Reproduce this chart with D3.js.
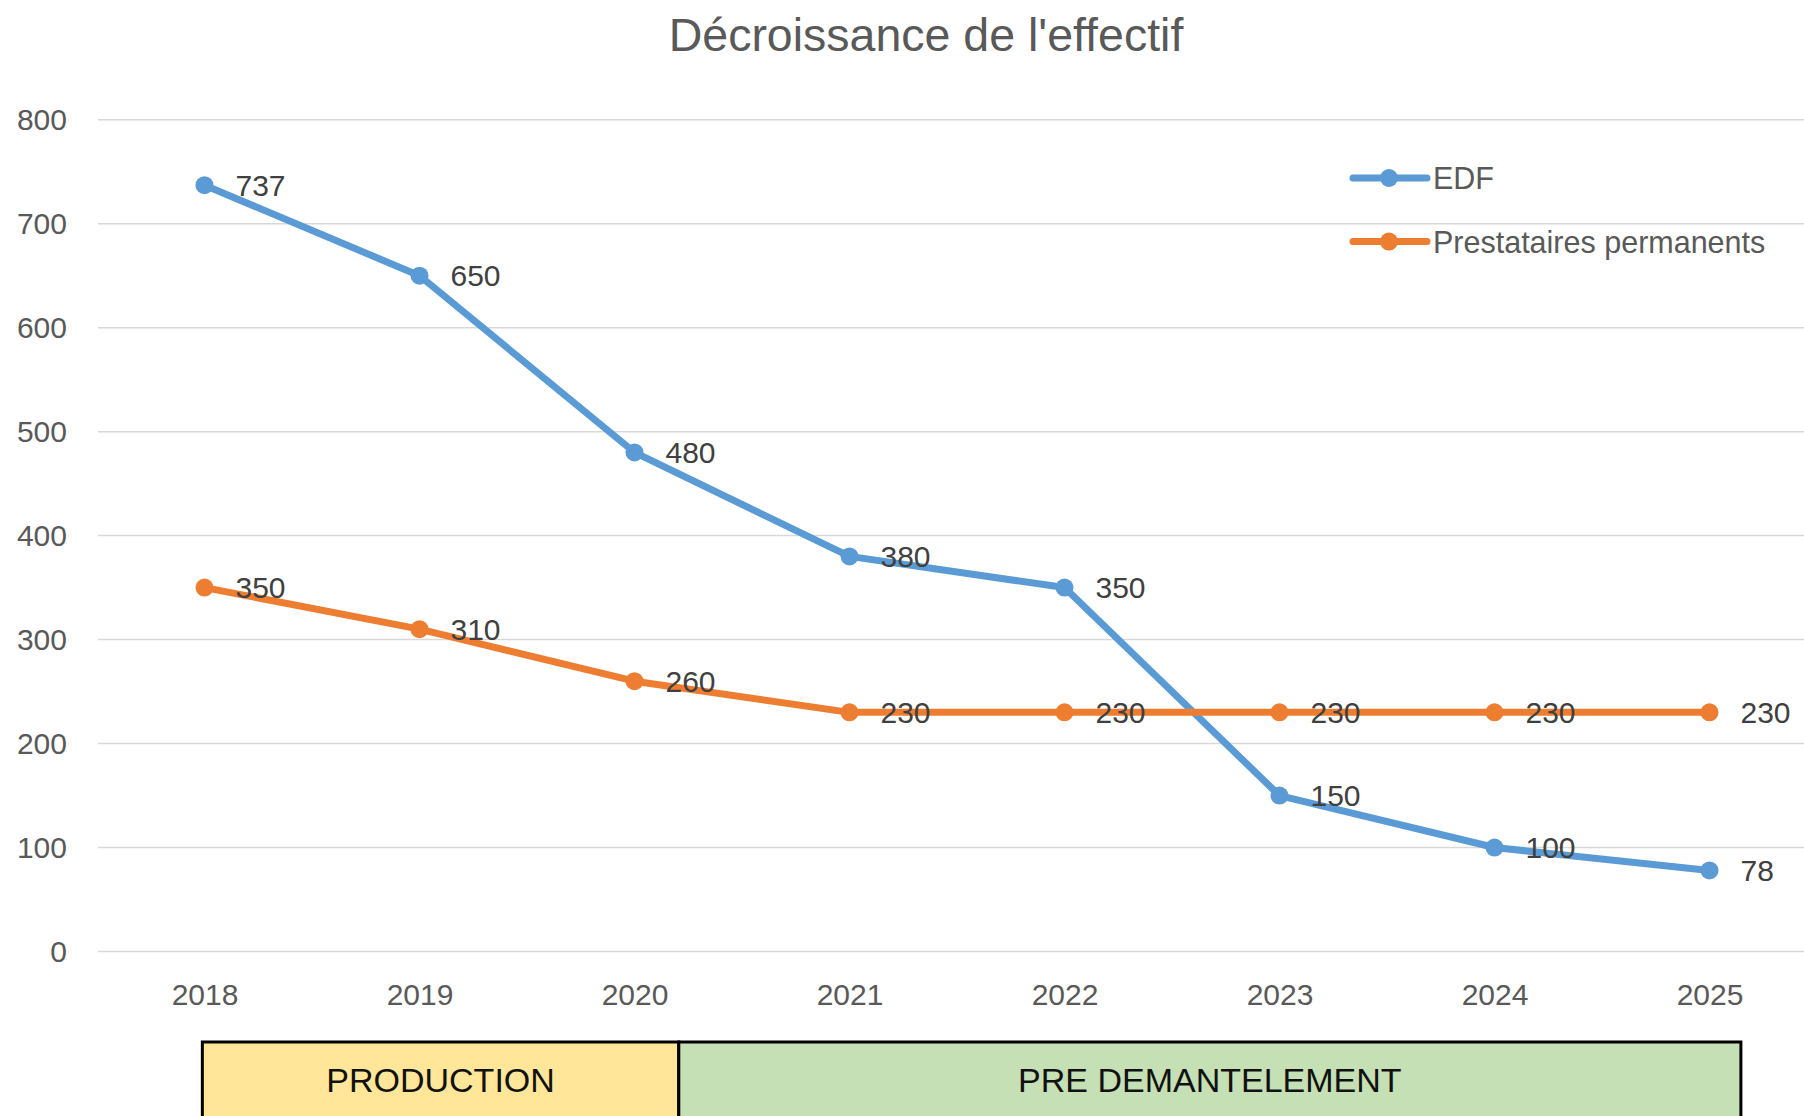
<!DOCTYPE html>
<html><head><meta charset="utf-8">
<script src="https://cdn.jsdelivr.net/npm/d3@7"></script>
<style>html,body{margin:0;padding:0;background:#fff;}svg{display:block;font-family:"Liberation Sans",Arial,sans-serif;}</style>
</head><body>
<svg id="c" width="1804" height="1116"></svg>
<script>
const years = ["2018","2019","2020","2021","2022","2023","2024","2025"];
const edf = [737,650,480,380,350,150,100,78];
const prestataires = [350,310,260,230,230,230,230,230];
const seriesNames = ["EDF","Prestataires permanents"];
const seriesColors = ["#5B9BD5","#ED7D31"];
const yTicks = [0,100,200,300,400,500,600,700,800];
const phaseLabels = ["PRODUCTION","PRE DEMANTELEMENT"];
const phaseColors = ["#FFE699","#C5E0B4"];
const title = "Décroissance de l'effectif";

const svg = d3.select("#c");
const x = d3.scalePoint().domain(years).range([97,1817]).padding(0.5);
const y = d3.scaleLinear().domain([0,800]).range([951.5,119.7]);
const step = x.step();

// title
svg.append("text").attr("x",926).attr("y",51).attr("text-anchor","middle")
  .attr("font-size",46.5).attr("fill","#595959").text(title);

// grid
svg.append("g").selectAll("line").data(yTicks).join("line")
  .attr("x1",98).attr("x2",1804).attr("y1",d=>y(d)).attr("y2",d=>y(d))
  .attr("stroke","#D9D9D9").attr("stroke-width",1.5);

// y axis labels
const yAxis = d3.axisLeft(y).tickValues(yTicks).tickSize(0).tickPadding(0);
const gy = svg.append("g").attr("transform","translate(67,0)").call(yAxis);
gy.select(".domain").remove();
gy.selectAll("text").attr("font-size",30).attr("fill","#595959").attr("font-family","Liberation Sans, Arial, sans-serif");

// x axis labels
const xAxis = d3.axisBottom(x).tickSize(0).tickPadding(0);
const gx = svg.append("g").attr("transform","translate(0,984)").call(xAxis);
gx.select(".domain").remove();
gx.selectAll("text").attr("font-size",30).attr("fill","#595959").attr("font-family","Liberation Sans, Arial, sans-serif");

// lines
const series = [edf, prestataires];
const line = d3.line().x((d,i)=>x(years[i])).y(d=>y(d));
series.forEach((s,k)=>{
  svg.append("path").datum(s).attr("d",line).attr("fill","none")
    .attr("stroke",seriesColors[k]).attr("stroke-width",7).attr("stroke-linejoin","round");
  svg.append("g").selectAll("circle").data(s).join("circle")
    .attr("cx",(d,i)=>x(years[i])).attr("cy",d=>y(d)).attr("r",9).attr("fill",seriesColors[k]);
});
series.forEach((s,k)=>{
  svg.append("g").selectAll("text").data(s).join("text")
    .attr("x",(d,i)=>x(years[i])+31).attr("y",d=>y(d)).attr("dy","0.36em")
    .attr("font-size",30).attr("fill","#404040").text(d=>d);
});

// legend
seriesNames.forEach((n,k)=>{
  const ly = [178,241.6][k];
  const g = svg.append("g");
  g.append("line").attr("x1",1353).attr("x2",1427).attr("y1",ly).attr("y2",ly)
    .attr("stroke",seriesColors[k]).attr("stroke-width",7).attr("stroke-linecap","round");
  g.append("circle").attr("cx",1389).attr("cy",ly).attr("r",9).attr("fill",seriesColors[k]);
  g.append("text").attr("x",1433).attr("y",ly).attr("dy","0.36em").attr("font-size",30.5)
    .attr("fill","#595959").text(n);
});

// phase boxes
const bounds = [x("2018")-0.01*step, x("2020")+0.206*step, x("2025")+0.146*step];
phaseLabels.forEach((p,i)=>{
  const x0 = bounds[i], x1 = bounds[i+1];
  svg.append("rect").attr("x",x0).attr("y",1042).attr("width",x1-x0).attr("height",100)
    .attr("fill",phaseColors[i]).attr("stroke","#000").attr("stroke-width",3);
  svg.append("text").attr("x",(x0+x1)/2).attr("y",1080).attr("dy","0.36em").attr("text-anchor","middle")
    .attr("font-size",34).attr("fill","#111").text(p);
});
</script>
</body></html>
